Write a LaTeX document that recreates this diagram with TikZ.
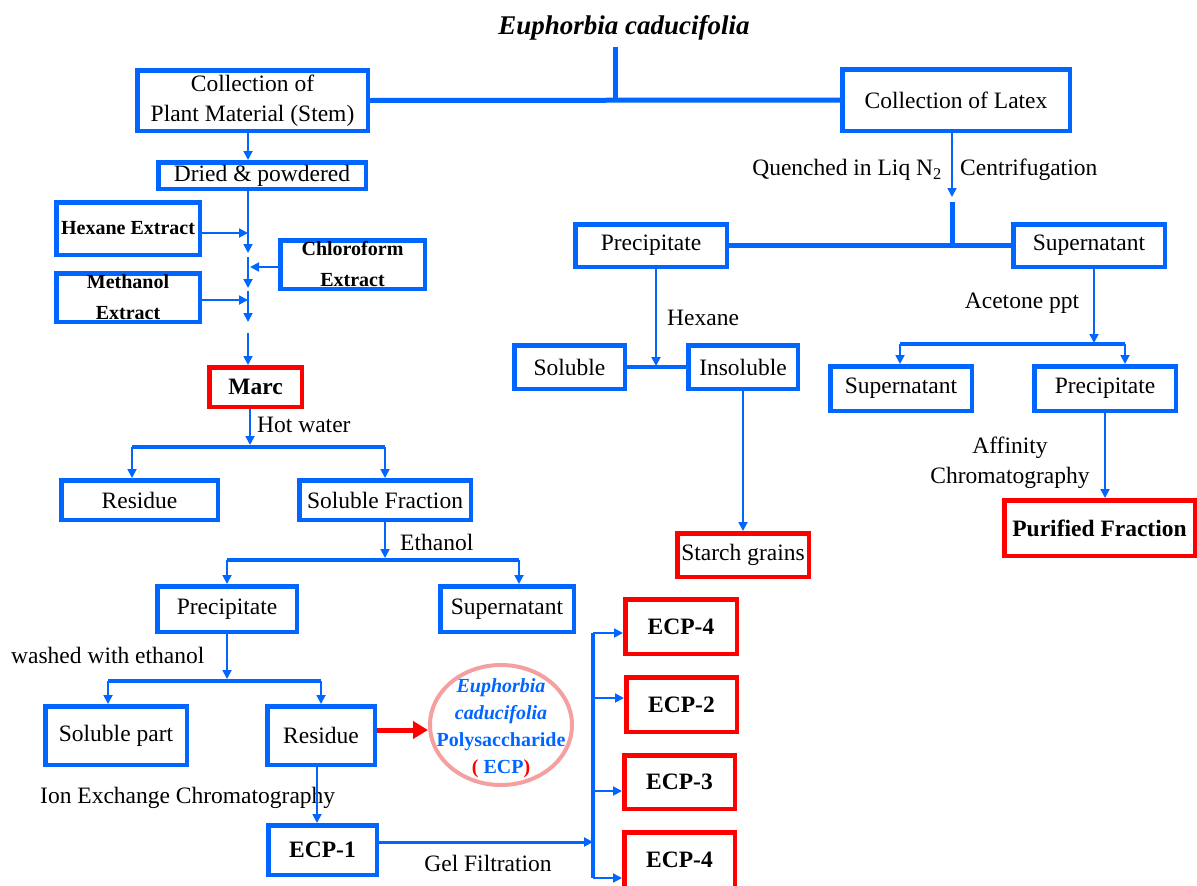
\documentclass[tikz,border=0pt]{standalone}
\usepackage{fontspec}
\setmainfont{Liberation Serif}
\usetikzlibrary{positioning, arrows.meta, shapes.geometric}
\definecolor{BoxBlue} {HTML}{0066FF}
\definecolor{BoxRed}  {HTML}{FF0000}
\definecolor{RingPink}{HTML}{F5A0A0}
\tikzset{
  every node/.style={font=\fontsize{23.5}{30}\selectfont},
  % framed steps
  cell/.style={draw, line width=4.5pt, align=center, inner sep=2pt},
  bx/.style ={cell, draw=BoxBlue},
  rx/.style ={cell, draw=BoxRed},
  hi/.style ={rx, font=\fontsize{23.5}{30}\selectfont\bfseries},
  ext/.style={bx, font=\fontsize{20}{31}\selectfont\bfseries},
  ecpring/.style={ellipse, draw=RingPink, line width=4pt,
                  minimum width=142pt, minimum height=120pt},
  % connectors
  flow/.style={draw=BoxBlue, line width=1.8pt, -{Triangle[length=9pt,width=9pt]}},
  gelflow/.style={flow, line width=3pt},
  bar/.style={draw=BoxBlue, line width=4pt},
  trunk/.style={draw=BoxBlue, line width=5pt},
  ann/.style={inner sep=0pt},
}

\begin{document}
\begin{tikzpicture}[x=1pt, y=-1pt]
\useasboundingbox (0,0) rectangle (1197,886);
\clip (0,0) rectangle (1197,886);

% title and the two collections
\node[font=\fontsize{27}{32}\selectfont\bfseries\itshape] (title) at (624,28) {Euphorbia caducifolia};
\node[bx, minimum width=230.5pt, minimum height=60.5pt] (plant) at (252.5,100.5) {Collection of\\Plant Material (Stem)};
\node[bx, minimum width=227.5pt, minimum height=61.5pt] (latex) at (956,100) {Collection of Latex};
\coordinate (stem) at (615,47);
\coordinate (junc) at (615,100);
\draw[trunk] (stem) -- (junc);
\draw[trunk] (plant.east) -- (latex.west);

% stem branch
\node[bx, minimum width=207.5pt, minimum height=26.5pt] (dried) at (262,175.5) {Dried \& powdered};
\node[ext, minimum width=143.5pt, minimum height=52.5pt] (hexane) at (128,228.5) {Hexane Extract};
\node[ext, inner ysep=-2pt, minimum width=144.5pt, minimum height=48.5pt] (chloro) at (352.5,264.5) {Chloroform\\Extract};
\node[ext, inner ysep=-2pt, minimum width=143.5pt, minimum height=48.5pt] (methanol) at (128,297.5) {Methanol\\Extract};
\node[hi, minimum width=92.5pt, minimum height=39.5pt] (marc) at (255.5,387) {Marc};

\coordinate (sp1) at (248,253);
\coordinate (sp2) at (248,257);
\coordinate (sp3) at (248,288);
\coordinate (sp4) at (248,291);
\coordinate (sp5) at (248,322);
\coordinate (sp6) at (248,333);
\coordinate (hxa) at (248,233);
\coordinate (cha) at (250,267);
\coordinate (mea) at (248,300);
\draw[flow] (plant.south -| sp1) -- (dried.north -| sp1);
\draw[flow] (dried.south -| sp1) -- (sp1);
\draw[flow] (sp2) -- (sp3);
\draw[flow] (sp4) -- (sp5);
\draw[flow] (sp6) -- (marc.north -| sp6);
\draw[flow] (hexane.east |- hxa) -- (hxa);
\draw[flow] (chloro.west |- cha) -- (cha);
\draw[flow] (methanol.east |- mea) -- (mea);

% hot water
\node[bx, minimum width=156.5pt, minimum height=39.5pt] (residue1) at (139.5,500) {Residue};
\node[bx, minimum width=171.5pt, minimum height=39.5pt] (solfrac) at (385,500) {Soluble Fraction};
\node[ann, anchor=west] (hot) at (257,425) {Hot water};
\coordinate (hw) at (250,447);
\coordinate (hwl) at (132,447);
\coordinate (hwr) at (385,447);
\draw[flow] (marc.south -| hw) -- ([yshift=2pt]hw);
\draw[bar] (hwl) -- (hwr);
\draw[flow] (hwl) -- (residue1.north -| hwl);
\draw[flow] (hwr) -- (solfrac.north);

% ethanol
\node[bx, minimum width=139.5pt, minimum height=45.5pt] (precip1) at (227,609) {Precipitate};
\node[bx, minimum width=133.5pt, minimum height=45.5pt] (super1) at (507,609) {Supernatant};
\node[ann, anchor=west] (etoh) at (400,542) {Ethanol};
\coordinate (etl) at (227,560);
\coordinate (etr) at (519,560);
\draw[flow] (solfrac.south) -- ([yshift=2pt]solfrac.south |- etl);
\draw[bar] (etl) -- (etr);
\draw[flow] (etl) -- (precip1.north);
\draw[flow] (etr) -- (super1.north -| etr);

% washing
\node[bx, minimum width=141.5pt, minimum height=58.5pt] (solpart) at (116,735.5) {Soluble part};
\node[bx, minimum width=107.5pt, minimum height=58.5pt] (residue2) at (321,735.5) {Residue};
\node[ann, anchor=west] (wash) at (11,655) {washed with ethanol};
\coordinate (wl) at (108,681);
\coordinate (wr) at (321,681);
\draw[flow] (precip1.south) -- ([yshift=2pt]precip1.south |- wl);
\draw[bar] (wl) -- (wr);
\draw[flow] (wl) -- (solpart.north -| wl);
\draw[flow] (wr) -- (residue2.north);

% polysaccharide
\node[ecpring] (ecp) at (501,725) {};
\node[align=center, text=BoxBlue, font=\fontsize{20}{27}\selectfont\bfseries] (ecptxt) at (501,728)
  {\textit{Euphorbia}\\\textit{caducifolia}\\Polysaccharide\\{\color{BoxRed}(} ECP{\color{BoxRed})}};
\coordinate (redy) at (400,730);
\draw[draw=BoxRed, line width=5pt, -{Triangle[length=15pt,width=17pt]}] (residue2.east |- redy) -- (ecp.west |- redy);

% ion exchange and gel filtration
\node[bx, font=\fontsize{23.5}{30}\selectfont\bfseries, minimum width=108.5pt, minimum height=49.5pt] (ecp1) at (322.5,850) {ECP-1};
\node[ann, anchor=west] (ionx) at (40,798) {Ion Exchange Chromatography};
\coordinate (ix) at (317,800);
\draw[flow] (residue2.south -| ix) -- (ecp1.north -| ix);

\node[hi, minimum width=111.5pt, minimum height=54.5pt] (ecp4a) at (681,626.5) {ECP-4};
\node[hi, minimum width=110.5pt, minimum height=54.5pt] (ecp2) at (681.5,704.5) {ECP-2};
\node[hi, minimum width=110.5pt, minimum height=53.5pt] (ecp3) at (679.5,782) {ECP-3};
\node[hi, minimum width=110.5pt, minimum height=55.5pt] (ecp4b) at (679.5,860) {ECP-4};
\node[ann] (gel) at (488,863) {Gel Filtration};
\coordinate (gf) at (593,842);
\coordinate (gt) at (593,633);
\coordinate (g2) at (593,698);
\coordinate (g3) at (593,791);
\coordinate (gb) at (593,878);
\draw[gelflow] (ecp1.east |- gf) -- (gf);
\draw[bar] (gt) -- (gb);
\draw[flow] (gt) -- (ecp4a.west |- gt);
\draw[flow] (g2) -- (ecp2.west |- g2);
\draw[flow] (g3) -- (ecp3.west |- g3);
\draw[flow] (gb) -- (ecp4b.west |- gb);

% latex branch
\node[ann, anchor=east] (quench) at (942,170) {Quenched in Liq N\textsubscript{2}};
\node[ann, anchor=west] (centri) at (960,170) {Centrifugation};
\node[bx, minimum width=151.5pt, minimum height=42.5pt] (precip2) at (651,245.5) {Precipitate};
\node[bx, minimum width=151.5pt, minimum height=42.5pt] (super2) at (1089,245.5) {Supernatant};
\coordinate (cj) at (952,202);
\coordinate (cb) at (952,245.5);
\draw[flow] (latex.south -| cj) -- ([yshift=5pt]cj);
\draw[trunk] (cj) -- (cb);
\draw[trunk] (precip2.east) -- (super2.west);

% hexane wash of the precipitate
\node[bx, minimum width=110.5pt, minimum height=43.5pt] (soluble) at (569.5,367) {Soluble};
\node[bx, minimum width=109.5pt, minimum height=43.5pt] (insoluble) at (743,367) {Insoluble};
\node[rx, minimum width=131.5pt, minimum height=43.5pt] (starch) at (743,555) {Starch grains};
\node[ann, anchor=west] (hexlbl) at (667,318) {Hexane};
\coordinate (hx) at (656,366);
\draw[flow] (precip2.south -| hx) -- (hx);
\draw[bar] (soluble.east) -- (insoluble.west);
\draw[flow] (insoluble.south) -- (starch.north);

% acetone precipitation of the supernatant
\node[bx, minimum width=141.5pt, minimum height=44.5pt] (super3) at (901,388.5) {Supernatant};
\node[bx, minimum width=141.5pt, minimum height=44.5pt] (precip3) at (1105,388.5) {Precipitate};
\node[hi, minimum width=190.5pt, minimum height=55.5pt] (purified) at (1099.5,528) {Purified Fraction};
\node[ann] (acet) at (1022,303) {Acetone ppt};
\node[ann, align=center] (affin) at (1010,463) {Affinity\\Chromatography};
\coordinate (acm) at (1094,344);
\coordinate (acl) at (900,344);
\coordinate (acr) at (1125,344);
\draw[flow] (super2.south -| acm) -- ([yshift=1pt]acm);
\draw[bar] (acl) -- (acr);
\draw[flow] (acl) -- (super3.north -| acl);
\draw[flow] (acr) -- (precip3.north -| acr);
\draw[flow] (precip3.south) -- (purified.north -| precip3.south);
\end{tikzpicture}
\end{document}
